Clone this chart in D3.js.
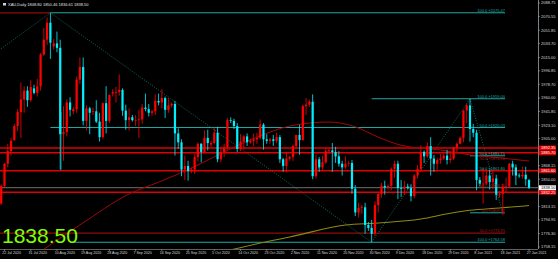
<!DOCTYPE html>
<html>
<head>
<meta charset="utf-8">
<script src="https://cdn.jsdelivr.net/npm/d3@7"></script>
<style>
  body { margin: 0; background: #000; }
  svg { display: block; }
</style>
</head>
<body>
<svg id="chart"></svg>
<script>
// XAU daily bars (broker with Sunday bars)
var dates = [
  "2020.07.21","2020.07.22","2020.07.23","2020.07.24","2020.07.26","2020.07.27","2020.07.28","2020.07.29","2020.07.30","2020.07.31",
  "2020.08.02","2020.08.03","2020.08.04","2020.08.05","2020.08.06","2020.08.07","2020.08.09","2020.08.10","2020.08.11","2020.08.12",
  "2020.08.13","2020.08.14","2020.08.16","2020.08.17","2020.08.18","2020.08.19","2020.08.20","2020.08.21","2020.08.23","2020.08.24",
  "2020.08.25","2020.08.26","2020.08.27","2020.08.28","2020.08.30","2020.08.31","2020.09.01","2020.09.02","2020.09.03","2020.09.04",
  "2020.09.06","2020.09.07","2020.09.08","2020.09.09","2020.09.10","2020.09.11","2020.09.13","2020.09.14","2020.09.15","2020.09.16",
  "2020.09.17","2020.09.18","2020.09.20","2020.09.21","2020.09.22","2020.09.23","2020.09.24","2020.09.25","2020.09.27","2020.09.28",
  "2020.09.29","2020.09.30","2020.10.01","2020.10.02","2020.10.04","2020.10.05","2020.10.06","2020.10.07","2020.10.08","2020.10.09",
  "2020.10.11","2020.10.12","2020.10.13","2020.10.14","2020.10.15","2020.10.16","2020.10.18","2020.10.19","2020.10.20","2020.10.21",
  "2020.10.22","2020.10.23","2020.10.25","2020.10.26","2020.10.27","2020.10.28","2020.10.29","2020.10.30","2020.11.01","2020.11.02",
  "2020.11.03","2020.11.04","2020.11.05","2020.11.06","2020.11.08","2020.11.09","2020.11.10","2020.11.11","2020.11.12","2020.11.13",
  "2020.11.15","2020.11.16","2020.11.17","2020.11.18","2020.11.19","2020.11.20","2020.11.22","2020.11.23","2020.11.24","2020.11.25",
  "2020.11.26","2020.11.27","2020.11.29","2020.11.30","2020.12.01","2020.12.02","2020.12.03","2020.12.04","2020.12.06","2020.12.07",
  "2020.12.08","2020.12.09","2020.12.10","2020.12.11","2020.12.13","2020.12.14","2020.12.15","2020.12.16","2020.12.17","2020.12.18",
  "2020.12.20","2020.12.21","2020.12.22","2020.12.23","2020.12.24","2020.12.27","2020.12.28","2020.12.29","2020.12.30","2020.12.31",
  "2021.01.03","2021.01.04","2021.01.05","2021.01.06","2021.01.07","2021.01.08","2021.01.10","2021.01.11","2021.01.12","2021.01.13",
  "2021.01.14","2021.01.15","2021.01.17","2021.01.18","2021.01.19","2021.01.20","2021.01.21","2021.01.22","2021.01.24","2021.01.25",
  "2021.01.26","2021.01.27"
];
var opens = [
  1817,1841,1871,1888,1903,1922,1941,1958,1970,1957, 1973,1967,1976,2019,2039,2062,2030,2034,2028,1911,
  1914,1954,1942,1945,1985,2002,1929,1946,1941,1942, 1928,1907,1953,1929,1966,1968,1968,1971,1943,1930,
  1934,1930,1930,1931,1947,1945,1940,1942,1956,1954, 1960,1944,1950,1952,1912,1900,1863,1868,1861,1863,
  1880,1898,1887,1906,1897,1899,1913,1877,1887,1893, 1930,1929,1922,1891,1901,1908,1900,1902,1904,1906,
  1924,1904,1902,1904,1902,1907,1877,1868,1878,1880, 1895,1910,1903,1949,1951,1955,1854,1877,1866,1873,
  1888,1889,1887,1881,1871,1866,1871,1872,1837,1805, 1811,1812,1788,1784,1776,1815,1830,1841,1839,1841,
  1864,1871,1838,1837,1840,1838,1827,1855,1864,1887, 1881,1895,1878,1871,1876,1878,1882,1876,1878,1893,
  1898,1906,1943,1950,1918,1913,1849,1844,1844,1855, 1846,1851,1829,1830,1840,1840,1871,1866,1855,1854,
  1856,1848.80
];
var highs = [
  1843,1872,1898,1906,1925,1945,1981,1976,1976,1984, 1978,1986,2021,2055,2069,2075.47,2040,2050,2039,1949,
  1958,1961,1948,1989,2015,2015,1950,1948,1947,1957, 1940,1954,1976,1965,1972,1975,1992,1973,1951,1946,
  1937,1937,1944,1952,1966,1952,1944,1965,1966,1972, 1962,1960,1954,1956,1919,1904,1882,1875,1866,1884,
  1900,1899,1916,1917,1902,1920,1921,1894,1898,1933, 1934,1932,1926,1911,1910,1912,1905,1912,1913,1931,
  1926,1911,1906,1910,1913,1910,1879,1887,1882,1897, 1910,1924,1951,1960,1958,1965,1883,1880,1882,1892,
  1892,1899,1894,1888,1875,1881,1875,1876,1842,1818, 1815,1818,1792,1795,1820,1833,1845,1848,1843,1866,
  1875,1875,1849,1848,1844,1843,1857,1869,1896,1889, 1900,1907,1883,1879,1884,1885,1890,1886,1894,1900,
  1908,1944,1952,1959,1925,1917,1853,1865,1863,1863, 1863,1856,1834,1844,1852,1872,1875,1870,1858,1867,
  1867,1850.46
];
var lows = [
  1815,1838,1866,1882,1902,1915,1906,1940,1948,1955, 1965,1962,1970,2017,2032,2013,2026,2022,1863,1875,
  1908,1935,1938,1940,1979,1923,1916,1911,1937,1926, 1901,1905,1912,1926,1962,1954,1963,1936,1917,1916,
  1928,1922,1906,1925,1942,1935,1936,1937,1950,1946, 1933,1940,1947,1882,1891,1854,1849,1848,1858,1857,
  1874,1873,1886,1889,1894,1897,1873,1873,1880,1890, 1926,1918,1887,1888,1890,1895,1898,1895,1898,1904,
  1890,1898,1898,1895,1899,1872,1860,1859,1875,1875, 1891,1883,1902,1937,1948,1850,1851,1860,1862,1871,
  1885,1860,1872,1867,1855,1864,1867,1830,1800,1798, 1803,1776,1780,1764.58,1773,1805,1825,1829,1836,1835,
  1852,1823,1826,1829,1836,1820,1824,1851,1860,1872, 1879,1855,1860,1862,1871,1876,1870,1872,1876,1886,
  1897,1900,1926,1901,1907,1835,1840,1817,1842,1836, 1837,1822,1825,1802,1832,1838,1855,1842,1852,1851,
  1841,1836.61
];
var closes = [
  1841,1871,1888,1902,1922,1941,1958,1970,1957,1975, 1967,1976,2019,2039,2062,2035,2034,2028,1911,1914,
  1954,1944,1945,1985,2002,1929,1946,1940,1942,1928, 1907,1953,1929,1964,1968,1968,1971,1943,1930,1934,
  1930,1930,1931,1947,1945,1940,1942,1956,1954,1960, 1944,1950,1952,1912,1900,1863,1868,1861,1863,1880,
  1898,1887,1906,1899,1899,1913,1877,1887,1893,1930, 1929,1922,1891,1901,1908,1900,1902,1904,1906,1924,
  1904,1902,1904,1902,1907,1877,1868,1878,1880,1895, 1910,1903,1949,1951,1955,1854,1877,1866,1873,1888,
  1889,1887,1881,1871,1866,1871,1872,1837,1805,1811, 1812,1788,1784,1776,1815,1830,1841,1839,1841,1864,
  1871,1838,1837,1840,1838,1827,1855,1864,1887,1881, 1895,1878,1871,1876,1878,1882,1876,1878,1893,1898,
  1906,1943,1950,1918,1913,1849,1844,1844,1855,1846, 1851,1829,1830,1840,1840,1871,1866,1855,1854,1856,
  1850,1838.50
];

// moving averages, sampled at some bars
var maRedDates = ["2020.07.31","2020.08.18","2020.09.04","2020.09.15","2020.09.27","2020.10.08","2020.10.20","2020.11.01",
  "2020.11.15","2020.11.24","2020.12.02","2020.12.10","2020.12.24","2021.01.06","2021.01.17","2021.01.27"];
var maRedValues = [1743,1788,1830,1846,1865,1887,1907,1922,1927.5,1921,1907,1896,1889.5,1883,1879,1874.6];
var maOliveDates = ["2020.10.07","2020.10.21","2020.11.01","2020.11.20","2020.12.02","2020.12.17","2020.12.29","2021.01.06","2021.01.17","2021.01.27"];
var maOliveValues = [1751,1763.5,1771.7,1788,1790.6,1796,1804,1808,1811,1814.3];

// horizontal levels
var redLevels = [1892.35, 1885.70, 1861.60, 1832.25];
var lastPrice = 1838.50;

// fibonacci objects: anchor lines and level labels
var fibAnchorFrom = [["2020.07.21",2027],["2020.08.07",2075.47],["2020.11.30",1764.58],["2021.01.06",1959.00]];
var fibAnchorTo   = [["2020.08.07",2075.47],["2020.11.30",1764.58],["2021.01.06",1959.00],["2021.01.18",1804.49]];
var fibCyanPrices = [2075.47, 1920.03, 1764.58, 1959.00, 1881.75, 1804.49];
var fibCyanStart  = ["2020.08.07","2020.08.07","2020.08.16","2020.11.30","2021.01.06","2021.01.06"];
var fibCyanLabels = ["100.0 \u00bb2075.47","50.0 \u00bb1920.03","100.0 \u00bb1764.58","100.0 \u00bb1959.00","50.0 \u00bb1881.75","50.0 \u00bb1861.80"];
var fibCyanLabelPrices = [2075.47, 1920.03, 1764.58, 1959.00, 1881.75, 1861.80];
var fibRedPrices = [1776.91];
var fibRedLabels = ["50.0 \u00bb1874.90","50.0 \u00bb1838.75","0.0 \u00bb1809.89","50.0 \u00bb1776.91"];
var fibRedLabelPrices = [1874.90, 1838.75, 1804.49, 1776.91];

var priceTicks = [2088.75,2070.55,2051.85,2033.70,2015.00,1996.85,1978.70,1960.00,1941.85,1923.10,1905.00,1868.15,1850.00,1813.15,1794.95,1776.30,1758.15];
var timeTickDates = ["2020.07.22","2020.07.31","2020.08.10","2020.08.19","2020.08.28","2020.09.07","2020.09.16","2020.09.25","2020.10.05","2020.10.14",
  "2020.10.23","2020.11.02","2020.11.11","2020.11.20","2020.11.30","2020.12.09","2020.12.18","2020.12.29","2021.01.08","2021.01.18","2021.01.27"];
var timeTickLabels = ["22 Jul 2020","31 Jul 2020","10 Aug 2020","19 Aug 2020","28 Aug 2020","7 Sep 2020","16 Sep 2020","25 Sep 2020","5 Oct 2020","14 Oct 2020",
  "23 Oct 2020","2 Nov 2020","11 Nov 2020","20 Nov 2020","30 Nov 2020","9 Dec 2020","18 Dec 2020","29 Dec 2020","8 Jan 2021","18 Jan 2021","27 Jan 2021"];

var W = 558, H = 259, plotR = 538, plotB = 249, labelR = 505;
var svg = d3.select("#chart").attr("width", W).attr("height", H).style("background", "#000");

var x = d3.scaleLinear().domain([1, 161]).range([4.5, 529]);
var y = d3.scaleLinear().domain([1754.1, 2092.8]).range([250, 0]);
function xd(d) { return x(dates.indexOf(d)); }

svg.append("clipPath").attr("id", "plot").append("rect")
  .attr("x", 0).attr("y", 0).attr("width", plotR).attr("height", plotB);
var g = svg.append("g").attr("clip-path", "url(#plot)");

var cyan = "#1fa9a6", darkRed = "#8f0b0b";

// fib level lines
fibCyanPrices.forEach(function (p, i) {
  g.append("line").attr("x1", xd(fibCyanStart[i])).attr("x2", labelR)
    .attr("y1", y(p)).attr("y2", y(p)).style("stroke", cyan).style("stroke-width", 1);
});
g.append("line").attr("x1", 0).attr("x2", xd("2020.08.07"))
  .attr("y1", y(2075.47)).attr("y2", y(2075.47)).style("stroke", darkRed).style("stroke-width", 1.2);
fibRedPrices.forEach(function (p) {
  g.append("line").attr("x1", 0).attr("x2", labelR)
    .attr("y1", y(p)).attr("y2", y(p)).style("stroke", darkRed).style("stroke-width", 1.2);
});
g.append("line").attr("x1", xd("2021.01.18")).attr("x2", labelR)
  .attr("y1", y(1804.49)).attr("y2", y(1804.49)).style("stroke", darkRed).style("stroke-width", 1);

// vertical line on the 11 Aug bar
g.append("line").attr("x1", xd("2020.08.11") + 0.8).attr("x2", xd("2020.08.11") + 0.8)
  .attr("y1", y(1941)).attr("y2", y(1862)).style("stroke", cyan).style("stroke-width", 0.8);

// fib anchor (dotted) lines
fibAnchorFrom.forEach(function (a, i) {
  var b = fibAnchorTo[i];
  g.append("line").attr("x1", xd(a[0])).attr("y1", y(a[1])).attr("x2", xd(b[0])).attr("y2", y(b[1]))
    .style("stroke", "#0e7a62").style("stroke-width", 0.9).style("stroke-dasharray", "1,1.5");
});

// red horizontal levels
redLevels.forEach(function (p) {
  g.append("line").attr("x1", 0).attr("x2", plotR).attr("y1", y(p)).attr("y2", y(p))
    .style("stroke", "#e00000").style("stroke-width", 1.5);
});
g.append("line").attr("x1", 0).attr("x2", plotR).attr("y1", y(lastPrice)).attr("y2", y(lastPrice))
  .style("stroke", "#8c8c8c").style("stroke-width", 0.8);

// moving averages
var maLine = d3.line().x(function (d) { return xd(d[0]); }).y(function (d) { return y(d[1]); }).curve(d3.curveMonotoneX);
g.append("path").datum(d3.zip(maRedDates, maRedValues)).attr("d", maLine)
  .style("fill", "none").style("stroke", "#a00808").style("stroke-width", 1);
g.append("path").datum(d3.zip(maOliveDates, maOliveValues)).attr("d", maLine)
  .style("fill", "none").style("stroke", "#8e8a10").style("stroke-width", 1.1);

// candles
var bars = dates.map(function (d, i) {
  return { i: i, o: opens[i], h: highs[i], l: lows[i], c: closes[i] };
});
var candle = g.append("g").selectAll("g").data(bars).enter().append("g");
function col(d) { return d.c >= d.o ? "#ff0000" : "#00f0ff"; }
candle.append("line")
  .attr("x1", function (d) { return x(d.i); }).attr("x2", function (d) { return x(d.i); })
  .attr("y1", function (d) { return y(d.h); }).attr("y2", function (d) { return y(d.l); })
  .style("stroke", col).style("stroke-width", 0.8);
candle.append("rect")
  .attr("x", function (d) { return x(d.i) - 1.1; }).attr("width", 2.2)
  .attr("y", function (d) { return y(Math.max(d.o, d.c)); })
  .attr("height", function (d) { return Math.max(0.7, Math.abs(y(d.o) - y(d.c))); })
  .style("fill", col);

// fib labels
var lbl = svg.append("g").style("font-family", "Liberation Sans, Arial, sans-serif").style("font-size", "4px");
fibCyanLabels.forEach(function (t, i) {
  lbl.append("text").attr("x", labelR).attr("y", y(fibCyanLabelPrices[i]) - 0.8)
    .attr("text-anchor", "end").style("fill", cyan).text(t);
});
fibRedLabels.forEach(function (t, i) {
  lbl.append("text").attr("x", labelR).attr("y", y(fibRedLabelPrices[i]) - 0.8)
    .attr("text-anchor", "end").style("fill", "#b01818").text(t);
});

// price axis
var ax = svg.append("g").style("font-family", "Liberation Sans, Arial, sans-serif").style("font-size", "4px");
ax.append("line").attr("x1", plotR + 0.5).attr("x2", plotR + 0.5).attr("y1", 0).attr("y2", plotB)
  .style("stroke", "#a0a0a0").style("stroke-width", 0.8);
priceTicks.forEach(function (p) {
  ax.append("line").attr("x1", plotR).attr("x2", plotR + 2).attr("y1", y(p)).attr("y2", y(p))
    .style("stroke", "#a0a0a0").style("stroke-width", 0.6);
  ax.append("text").attr("x", plotR + 3).attr("y", y(p) + 1.4).style("fill", "#d8d8d8").text(p.toFixed(2));
});
redLevels.forEach(function (p) {
  ax.append("rect").attr("x", plotR + 1).attr("y", y(p) - 2.4).attr("width", 17).attr("height", 4.8).style("fill", "#e00000");
  ax.append("text").attr("x", plotR + 3).attr("y", y(p) + 1.4).style("fill", "#fff").text(p.toFixed(2));
});
ax.append("rect").attr("x", plotR + 1).attr("y", y(lastPrice) - 2.4).attr("width", 17).attr("height", 4.8).style("fill", "#fff");
ax.append("text").attr("x", plotR + 3).attr("y", y(lastPrice) + 1.4).style("fill", "#000").text(lastPrice.toFixed(2));

// time axis
var tx = svg.append("g").style("font-family", "Liberation Sans, Arial, sans-serif").style("font-size", "3.6px");
tx.append("line").attr("x1", 0).attr("x2", plotR).attr("y1", plotB + 0.5).attr("y2", plotB + 0.5)
  .style("stroke", "#a0a0a0").style("stroke-width", 0.6);
timeTickDates.forEach(function (d, i) {
  var xx = xd(d);
  tx.append("line").attr("x1", xx).attr("x2", xx).attr("y1", plotB).attr("y2", plotB + 2)
    .style("stroke", "#a0a0a0").style("stroke-width", 0.6);
  tx.append("text").attr("x", xx - 2.2).attr("y", plotB + 5.2).style("fill", "#d8d8d8").text(timeTickLabels[i]);
});

// header
svg.append("rect").attr("x", 3).attr("y", 3).attr("width", 3).attr("height", 2.5).style("fill", "#cfcfcf");
svg.append("text").attr("x", 8).attr("y", 5.8)
  .style("font-family", "Liberation Sans, Arial, sans-serif").style("font-size", "4px").style("fill", "#e0e0e0")
  .text("XAU,Daily  " + opens[161].toFixed(2) + " " + highs[161].toFixed(2) + " " + lows[161].toFixed(2) + " " + closes[161].toFixed(2));

// big last price
svg.append("text").attr("x", 2).attr("y", 243)
  .style("font-family", "Liberation Sans, Arial, sans-serif").style("font-size", "21px").style("fill", "#7fff00")
  .text(lastPrice.toFixed(2));
</script>
</body>
</html>
